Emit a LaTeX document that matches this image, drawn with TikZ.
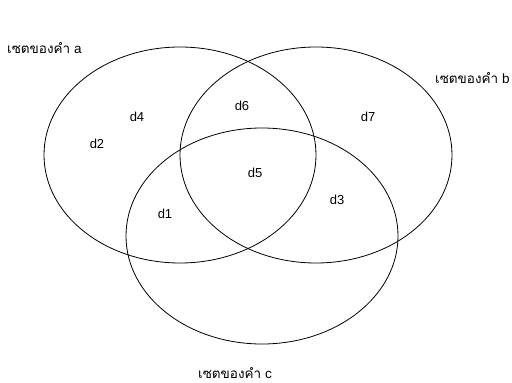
\documentclass[tikz,border=0pt]{standalone}
\usepackage{fontspec}
\setmainfont{Liberation Sans}
\newfontfamily\thaifont[Script=Thai]{Loma}
\begin{document}
\begin{tikzpicture}[
  x=1pt, y=-1pt,
  setline/.style={line width=0.8pt},
  elem/.style={font=\fontsize{13}{15}\selectfont, inner sep=0pt},
  setname/.style={font=\fontsize{13.5}{15}\selectfont, inner sep=0pt}
]
\useasboundingbox (0,0) rectangle (512,383);
% the three sets
\coordinate (ca) at (180,155);
\coordinate (cb) at (316,155);
\coordinate (cc) at (262,236);
\draw[setline] (ca) ellipse [x radius=136pt, y radius=108pt];
\draw[setline] (cb) ellipse [x radius=136pt, y radius=108pt];
\draw[setline] (cc) ellipse [x radius=136pt, y radius=108pt];
% set names
\node[setname, anchor=west] (namea) at (7,48) {{\thaifont เซตของคำ} a};
\node[setname, anchor=west] (nameb) at (435,78) {{\thaifont เซตของคำ} b};
\node[setname, anchor=west] (namec) at (198,373) {{\thaifont เซตของคำ} c};
% elements
\node[elem] (d1) at (165,214) {d1};
\node[elem] (d2) at (97,144) {d2};
\node[elem] (d3) at (337,200) {d3};
\node[elem] (d4) at (137,117) {d4};
\node[elem] (d5) at (255,173) {d5};
\node[elem] (d6) at (242,106) {d6};
\node[elem] (d7) at (368,117) {d7};
\end{tikzpicture}
\end{document}
